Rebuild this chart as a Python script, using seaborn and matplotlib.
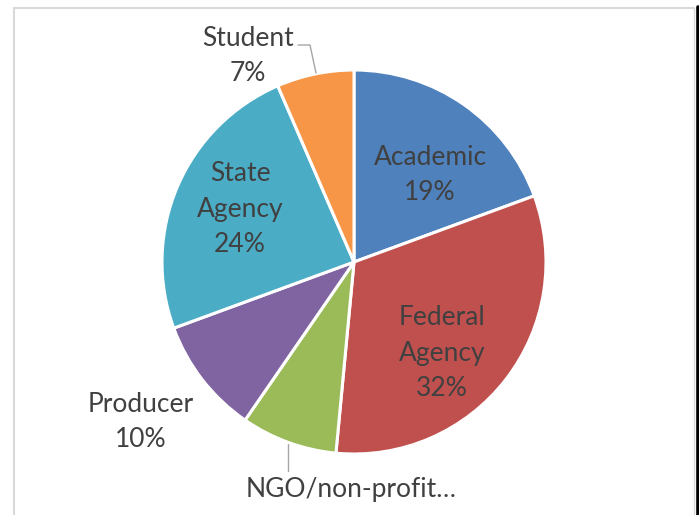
import numpy as np
import matplotlib.pyplot as plt
import matplotlib.lines as mlines
import seaborn as sns

# Datos del gráfico (sentido horario desde las 12)
categorias = ['Academic', 'Federal\nAgency', 'NGO/non-profit\u2026', 'Producer', 'State\nAgency', 'Student']
valores = [19.4, 32.1, 8.1, 9.8, 24.1, 6.5]
etiquetas_pct = ['19%', '32%', '8%', '10%', '24%', '7%']
mostrar_pct = [True, True, False, True, True, True]
colores = ['#4F81BD', '#C0504D', '#9BBB59', '#8064A2', '#4BACC6', '#F79646']

sns.set_theme(style='white')
plt.rcParams['font.family'] = ['Lato', 'DejaVu Sans']

fig = plt.figure(figsize=(6.99, 5.15), dpi=100)
ax = fig.add_axes([0, 0, 1, 1])

# centro (354, 262) px, radio 192 px
R = 192.0
cx, cy = 354.0, 262.0
W, H = 699.0, 515.0

wedges, _ = ax.pie(valores, colors=sns.color_palette(colores), startangle=90,
                   counterclock=False, radius=1.0,
                   wedgeprops=dict(edgecolor='white', linewidth=2.2))
ax.set_xlim(-cx / R, (W - cx) / R)
ax.set_ylim(-(H - cy) / R, cy / R)
ax.set_aspect('auto')
ax.axis('off')


def px(x, y):
    return (x - cx) / R, (cy - y) / R


# posiciones de etiquetas (px de la imagen)
pos_etiquetas = [(430, 175), (442, 353), (351, 490), (141, 422), (240, 209), (248, 56)]
color_texto = '#404040'
for cat, pct, show, (x, y) in zip(categorias, etiquetas_pct, mostrar_pct, pos_etiquetas):
    txt = f'{cat}\n{pct}' if show else cat
    dx, dy = px(x, y)
    ax.text(dx, dy, txt, ha='center', va='center', fontsize=19,
            color=color_texto, linespacing=1.52)

# líneas guía
gris = '#A6A6A6'
x1, y1 = px(298, 45)
x2, y2 = px(310, 45)
x3, y3 = px(316, 73)
ax.plot([x1, x2, x3], [y1, y2, y3], color=gris, lw=1.0)
x1, y1 = px(288, 444)
x2, y2 = px(288, 471)
ax.plot([x1, x2], [y1, y2], color=gris, lw=1.0)

# marco de la captura
fig.add_artist(mlines.Line2D([14 / W, 14 / W], [0, 1 - 8 / H], color='#D9D9D9', lw=1.5))
fig.add_artist(mlines.Line2D([14 / W, 694 / W], [1 - 8 / H, 1 - 8 / H], color='#D9D9D9', lw=1.5))
fig.add_artist(mlines.Line2D([694 / W, 694 / W], [0, 1 - 8 / H], color='#D9D9D9', lw=1.0))
fig.add_artist(mlines.Line2D([697.5 / W, 697.5 / W], [0, 1 - 7 / H], color='black', lw=2.6))

fig.savefig('out.png', dpi=100)
